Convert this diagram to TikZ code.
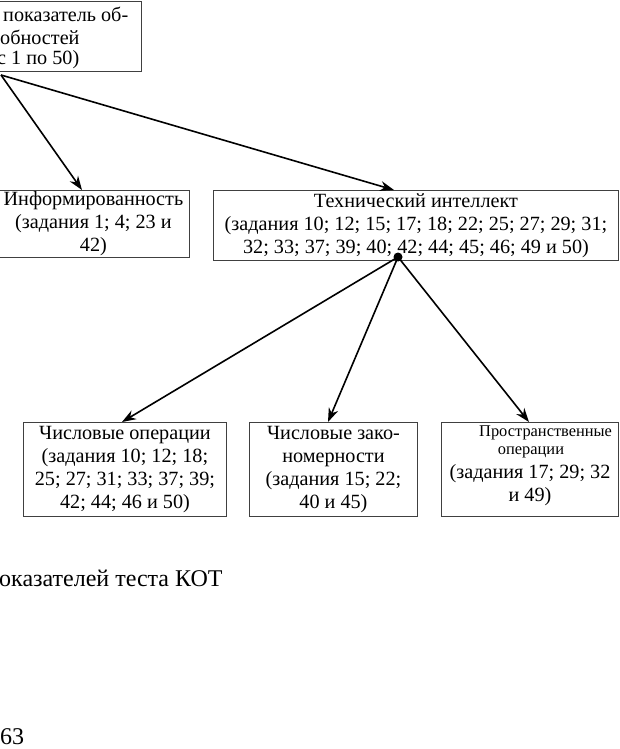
\documentclass[tikz,border=0pt]{standalone}
\usepackage{fontspec}
\setmainfont{Liberation Serif}
\usetikzlibrary{arrows.meta}
\begin{document}
\begin{tikzpicture}[x=1pt,y=-1pt,
  box/.style={draw=black!75, line width=0.9pt, rectangle, inner sep=0pt, anchor=north west},
  big/.style={font=\fontsize{20.2}{23}\selectfont, inner sep=0pt, align=center},
  small/.style={font=\fontsize{16.4}{17}\selectfont, inner sep=0pt},
  huge/.style={font=\fontsize{24}{28}\selectfont, inner sep=0pt},
  arr/.style={-{Stealth[length=14pt,width=10pt]}, line width=1.6pt}]
\useasboundingbox (0,0) rectangle (620,749);
\clip (0,0) rectangle (620,749);
% top box
\node[box, minimum width=151pt, minimum height=70pt] (top) at (-10,1) {};
\node[big, anchor=west] (t1) at (3,14) {показатель об-};
\node[big, anchor=west] (t2) at (0,37) {обностей};
\node[big, anchor=west] (t3) at (-3,60) {с 1 по 50)};
\coordinate (src) at (1,75);
% second level
\node[box, big, minimum width=192pt, minimum height=67pt] (info) at (-3,190)
  {Информированность\\(задания 1; 4; 23 и\\42)};
\node[box, big, minimum width=405pt, minimum height=70pt] (tech) at (213,190)
  {Технический интеллект\\(задания 10; 12; 15; 17; 18; 22; 25; 27; 29; 31;\\32; 33; 37; 39; 40; 42; 44; 45; 46; 49 и 50)};
% third level
\node[box, big, minimum width=203pt, minimum height=94pt] (num) at (23,422)
  {Числовые операции\\(задания 10; 12; 18;\\25; 27; 31; 33; 37; 39;\\42; 44; 46 и 50)};
\node[box, big, minimum width=168pt, minimum height=94pt] (pat) at (249,422)
  {Числовые зако-\\номерности\\(задания 15; 22;\\40 и 45)};
\node[box, minimum width=177pt, minimum height=94pt] (spa) at (441,422) {};
\node[small, anchor=west] (s1) at (479,433) {Пространственные};
\node[small] (s2) at (531,452) {операции};
\node[big] (s3) at (530,474) {(задания 17; 29; 32};
\node[big] (s4) at (530,497) {и 49)};
% captions
\node[huge, anchor=west] (cap) at (-1,578) {оказателей теста КОТ};
\node[huge, anchor=west] (page) at (0,737) {63};
% connectors
\coordinate (ti) at (82,190);
\coordinate (tt) at (394,190);
\draw[arr] (src) -- (ti);
\draw[arr] (src) -- (tt);
\coordinate (dot) at (398,257);
\fill (dot) circle (4.5pt);
\coordinate (tn) at (122,422);
\coordinate (tp) at (328,422);
\coordinate (ts) at (529,422);
\draw[arr] (dot) -- (tn);
\draw[arr] (dot) -- (tp);
\draw[arr] (dot) -- (ts);
\end{tikzpicture}
\end{document}
